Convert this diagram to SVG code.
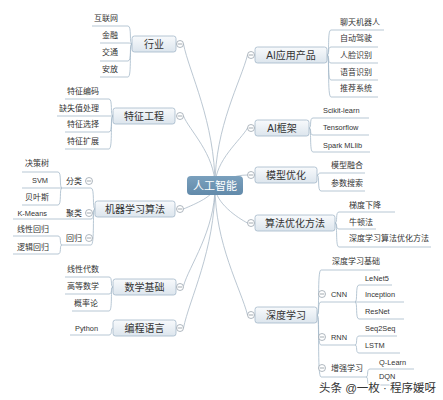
<svg xmlns="http://www.w3.org/2000/svg" width="443" height="400" viewBox="0 0 443 400">
<defs>
<linearGradient id="bg" x1="0" y1="0" x2="0" y2="1"><stop offset="0" stop-color="#f8fafc"/><stop offset="1" stop-color="#dce5ed"/></linearGradient>
<linearGradient id="cg" x1="0" y1="0" x2="0" y2="1"><stop offset="0" stop-color="#7aa0bd"/><stop offset="1" stop-color="#628aaa"/></linearGradient>
<style>
.box{fill:url(#bg);stroke:#a3b8c9;stroke-width:0.8}
.ln{fill:none;stroke:#a5b9c9;stroke-width:0.8}
.mc{fill:none;stroke:#aab9c6;stroke-width:0.8}
.cc{fill:#fff;stroke:#8e9aa5;stroke-width:0.7}
.cm{stroke:#7d8791;stroke-width:0.7}
text{font-family:"Liberation Sans","Noto Sans CJK SC",sans-serif;fill:#333}
.t1{font-size:10px;text-anchor:middle}
.t2{font-size:8px}
.lat{font-size:7.4px}
.e{text-anchor:end}
.ct{font-size:11px;fill:#fff;text-anchor:middle}
.wm{font-size:11.5px;fill:#333;stroke:#fff;stroke-width:2;paint-order:stroke}
</style>
<g id="col"><circle class="cc" r="3.5"/><line class="cm" x1="-2.2" y1="0" x2="2.2" y2="0"/></g>
</defs>

<g id="connectors">
<path class="mc" d="M215 186 C215 122 189 72 183.5 44"/>
<path class="mc" d="M215 186 C215 154 189 130 183.5 116"/>
<path class="mc" d="M215 186 C215 196 195 204 183.5 209"/>
<path class="mc" d="M215 186 C215 231 189 266 183.5 286"/>
<path class="mc" d="M215 186 C215 250 189 300 183.5 328"/>
<path class="mc" d="M215 186 C215 127 241 81 247.5 55"/>
<path class="mc" d="M215 186 C215 160 241 140 247.5 128"/>
<path class="mc" d="M215 186 C222 180 235 175 247.5 175"/>
<path class="mc" d="M215 186 C215 203 238 218 247.5 223"/>
<path class="mc" d="M215 186 C215 244 241 289 247.5 315"/>
</g>

<g id="center"><rect x="187" y="176" width="56" height="19" rx="4" fill="url(#cg)"/><text class="ct" x="215" y="189.5">人工智能</text></g>

<g id="n-hangye">
<rect class="box" x="132" y="36" width="44" height="16" rx="2.5"/><text class="t1" x="154" y="47.5">行业</text>
<use href="#col" x="180" y="44"/>
<path class="ln" d="M132 44 C129 44 132 26 128 26 L92 26"/>
<path class="ln" d="M132 44 C129 44 132 43 128 43 L100 43"/>
<path class="ln" d="M132 44 C129 44 132 61 128 61 L100 61"/>
<path class="ln" d="M132 44 C129 44 132 77 128 77 L100 77"/>
<text class="t2 e" x="118" y="21">互联网</text>
<text class="t2 e" x="118" y="38">金融</text>
<text class="t2 e" x="118" y="55">交通</text>
<text class="t2 e" x="118" y="72">安放</text>
</g>

<g id="n-tezheng">
<rect class="box" x="113" y="108" width="62" height="16" rx="2.5"/><text class="t1" x="144" y="119.5">特征工程</text>
<use href="#col" x="180" y="116"/>
<path class="ln" d="M113 116 C110 116 113 99 109 99 L65 99"/>
<path class="ln" d="M113 116 L57 116"/>
<path class="ln" d="M113 116 C110 116 113 132 109 132 L65 132"/>
<path class="ln" d="M113 116 C110 116 113 149 109 149 L65 149"/>
<text class="t2 e" x="99" y="94">特征编码</text>
<text class="t2 e" x="99" y="111">缺失值处理</text>
<text class="t2 e" x="99" y="127">特征选择</text>
<text class="t2 e" x="99" y="144">特征扩展</text>
</g>

<g id="n-ml">
<rect class="box" x="95" y="201" width="80" height="16" rx="2.5"/><text class="t1" x="135" y="212.5">机器学习算法</text>
<use href="#col" x="180" y="209"/>
<path class="ln" d="M95 209 C92 209 95 188 91 188 L62 188"/>
<path class="ln" d="M95 209 C92 209 95 219 91 219 L13 219"/>
<path class="ln" d="M95 209 C92 209 95 245 91 245 L62 245"/>
<text class="t2 e" x="82" y="184">分类</text><use href="#col" x="89" y="181"/>
<text class="t2 e" x="82" y="216">聚类</text><use href="#col" x="89" y="213"/>
<text class="t2 e" x="82" y="241">回归</text><use href="#col" x="89" y="238"/>
<path class="ln" d="M62 188 C59 188 62 172 58 172 L22 172"/>
<path class="ln" d="M62 188 L22 188"/>
<path class="ln" d="M62 188 C59 188 62 205 58 205 L22 205"/>
<text class="t2 e" x="49" y="166">决策树</text>
<text class="lat e" x="48" y="183">SVM</text>
<text class="t2 e" x="49" y="200">贝叶斯</text>
<text class="lat e" x="47" y="216">K-Means</text>
<path class="ln" d="M62 245 C59 245 62 236 58 236 L13 236"/>
<path class="ln" d="M62 245 C59 245 62 254 58 254 L13 254"/>
<text class="t2 e" x="49" y="232">线性回归</text>
<text class="t2 e" x="49" y="250">逻辑回归</text>
</g>

<g id="n-math">
<rect class="box" x="113" y="279" width="63" height="16" rx="2.5"/><text class="t1" x="144.5" y="290.5">数学基础</text>
<use href="#col" x="180" y="287"/>
<path class="ln" d="M113 287 C110 287 113 277 109 277 L65 277"/>
<path class="ln" d="M113 287 C110 287 113 294 109 294 L65 294"/>
<path class="ln" d="M113 287 C110 287 113 311 109 311 L72 311"/>
<text class="t2 e" x="99" y="272">线性代数</text>
<text class="t2 e" x="99" y="289">高等数学</text>
<text class="t2 e" x="98" y="306">概率论</text>
</g>

<g id="n-prog">
<rect class="box" x="113" y="320" width="63" height="16" rx="2.5"/><text class="t1" x="144.5" y="331.5">编程语言</text>
<use href="#col" x="180" y="328"/>
<path class="ln" d="M113 328 C110 328 113 335 109 335 L70 335"/>
<text class="lat e" x="98" y="331">Python</text>
</g>

<g id="n-aiapp">
<rect class="box" x="255" y="47" width="72" height="16" rx="2.5"/><text class="t1" x="291" y="58.5">AI应用产品</text>
<use href="#col" x="251" y="55"/>
<path class="ln" d="M327 55 C330 55 327 30 331 30 L384 30"/>
<path class="ln" d="M327 55 C330 55 327 47 331 47 L378 47"/>
<path class="ln" d="M327 55 C330 55 327 63 331 63 L378 63"/>
<path class="ln" d="M327 55 C330 55 327 80 331 80 L378 80"/>
<path class="ln" d="M327 55 C330 55 327 97 331 97 L378 97"/>
<text class="t2" x="340" y="25">聊天机器人</text>
<text class="t2" x="340" y="41">自动驾驶</text>
<text class="t2" x="340" y="58">人脸识别</text>
<text class="t2" x="340" y="75">语音识别</text>
<text class="t2" x="340" y="91">推荐系统</text>
</g>

<g id="n-aifw">
<rect class="box" x="255" y="120" width="54" height="16" rx="2.5"/><text class="t1" x="282" y="131.5">AI框架</text>
<use href="#col" x="251" y="128"/>
<path class="ln" d="M309 128 C312 128 309 118 313 118 L369 118"/>
<path class="ln" d="M309 128 C312 128 309 135 313 135 L369 135"/>
<path class="ln" d="M309 128 C312 128 309 152 313 152 L370 152"/>
<text class="lat" x="323" y="113">Scikit-learn</text>
<text class="lat" x="323" y="130">Tensorflow</text>
<text class="lat" x="323" y="148">Spark MLlib</text>
</g>

<g id="n-model">
<rect class="box" x="255" y="167" width="62" height="16" rx="2.5"/><text class="t1" x="286" y="178.5">模型优化</text>
<use href="#col" x="251" y="175"/>
<path class="ln" d="M317 175 C320 175 317 173 321 173 L365 173"/>
<path class="ln" d="M317 175 C320 175 317 191 321 191 L365 191"/>
<text class="t2" x="331" y="168">模型融合</text>
<text class="t2" x="331" y="186">参数搜索</text>
</g>

<g id="n-algo">
<rect class="box" x="255" y="215" width="80" height="16" rx="2.5"/><text class="t1" x="295" y="226.5">算法优化方法</text>
<use href="#col" x="251" y="223"/>
<path class="ln" d="M335 223 C338 223 335 212 339 212 L395 212"/>
<path class="ln" d="M335 223 C338 223 335 229 339 229 L376 229"/>
<path class="ln" d="M335 223 C338 223 335 247 339 247 L431 247"/>
<text class="t2" x="349" y="208">梯度下降</text>
<text class="t2" x="349" y="225">牛顿法</text>
<text class="t2" x="349" y="241">深度学习算法优化方法</text>
</g>

<g id="n-dl">
<rect class="box" x="255" y="307" width="62" height="16" rx="2.5"/><text class="t1" x="286" y="318.5">深度学习</text>
<use href="#col" x="251" y="315"/>
<path class="ln" d="M317 315 C320 315 317 270 321 270 L380 270"/>
<path class="ln" d="M317 315 C320 315 317 302 321 302 L355 302"/>
<path class="ln" d="M317 315 C320 315 317 345 321 345 L355 345"/>
<path class="ln" d="M317 315 C320 315 317 377 321 377 L366 377"/>
<text class="t2" x="332" y="264">深度学习基础</text>
<use href="#col" x="322" y="294"/><text class="lat" x="331" y="297">CNN</text>
<use href="#col" x="322" y="337"/><text class="lat" x="331" y="340">RNN</text>
<use href="#col" x="322" y="368"/><text class="t2" x="331" y="371">增强学习</text>
<path class="ln" d="M355 302 C358 302 355 285 359 285 L392 285"/>
<path class="ln" d="M355 302 L404 302"/>
<path class="ln" d="M355 302 C358 302 355 319 359 319 L404 319"/>
<text class="lat" x="365" y="281">LeNet5</text>
<text class="lat" x="365" y="297">Inception</text>
<text class="lat" x="365" y="314">ResNet</text>
<path class="ln" d="M355 345 C358 345 355 336 359 336 L397 336"/>
<path class="ln" d="M355 345 C358 345 355 353 359 353 L400 353"/>
<text class="lat" x="365" y="331">Seq2Seq</text>
<text class="lat" x="365" y="348">LSTM</text>
<path class="ln" d="M366 377 C369 377 366 369 370 369 L414 369"/>
<path class="ln" d="M366 377 C369 377 366 385 370 385 L414 385"/>
<text class="lat" x="379" y="365">Q-Learn</text>
<text class="lat" x="379" y="379">DQN</text>
</g>

<text class="wm" x="319" y="392">头条 @一枚 · 程序媛呀</text>
</svg>
